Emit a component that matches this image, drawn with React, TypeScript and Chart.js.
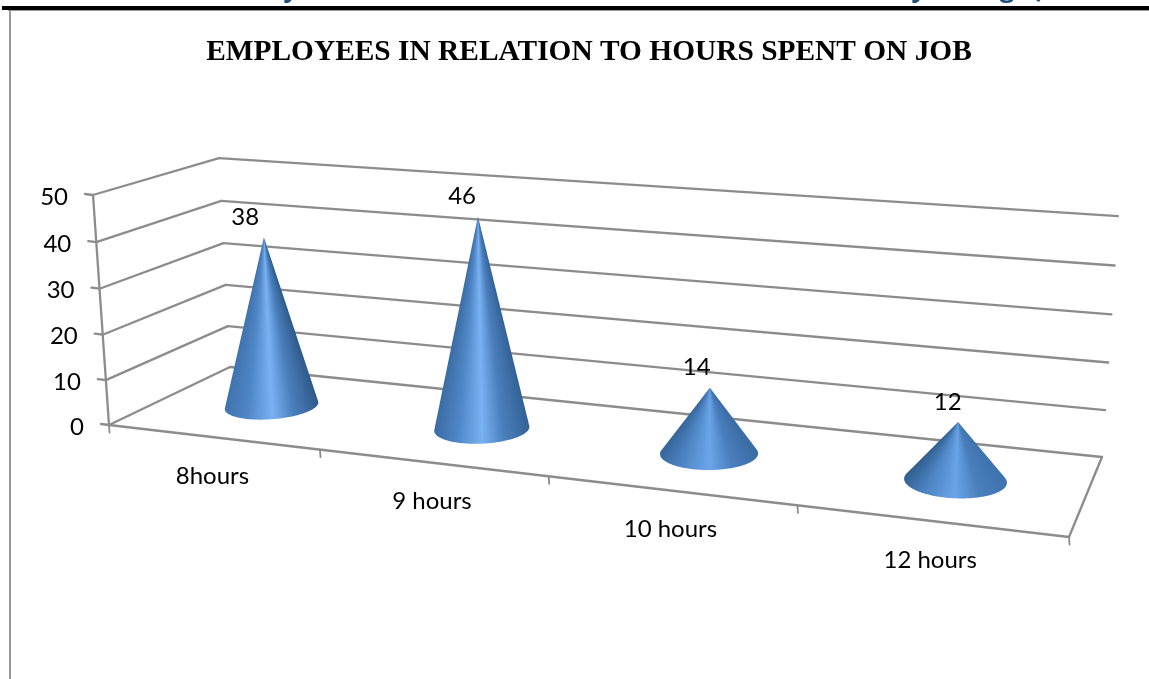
import React, { useEffect, useRef } from "react";
import { Chart, registerables } from "chart.js";

Chart.register(...registerables);

const categories = ["8hours", "9 hours", "10 hours", "12 hours"];
const employees = [38, 46, 14, 12];
const yMin = 0;
const yMax = 50;
const yStep = 10;
const titleText = "EMPLOYEES IN RELATION TO HOURS SPENT ON JOB";
const clippedHeading = [
  { ch: "y", x: 291 },
  { ch: ",", x: 373 },
  { ch: ",", x: 508 },
  { ch: "y", x: 919 },
  { ch: "g", x: 1007 },
  { ch: "(", x: 1037 },
];

const W = 1149;
const H = 679;
const GRID = "#8c8c8c";
const LABEL_FONT = '24px Lato';

// Oblique view of the plot box. Floor corners: front-left, front-right, back-right, back-left.
const P0 = [109, 425];
const P1 = [1069, 537];
const P2 = [1102, 457];
const P3 = [230, 367];
const TOP_FRONT_LEFT = [93, 195];
const TOP_BACK_LEFT = [219, 158];

function buildCamera() {
  const sx = P0[0] - P1[0] + P2[0] - P3[0];
  const sy = P0[1] - P1[1] + P2[1] - P3[1];
  const dx1 = P1[0] - P2[0];
  const dx2 = P3[0] - P2[0];
  const dy1 = P1[1] - P2[1];
  const dy2 = P3[1] - P2[1];
  const den = dx1 * dy2 - dx2 * dy1;
  const g = (sx * dy2 - dx2 * sy) / den;
  const h = (dx1 * sy - sx * dy1) / den;
  const a = P1[0] - P0[0] + g * P1[0];
  const b = P3[0] - P0[0] + h * P3[0];
  const d = P1[1] - P0[1] + g * P1[1];
  const e = P3[1] - P0[1] + h * P3[1];
  // Vertical column from the two known top corners.
  const pw = (b + TOP_FRONT_LEFT[0] - TOP_BACK_LEFT[0] * (1 + h)) /
    (TOP_BACK_LEFT[0] - TOP_FRONT_LEFT[0]);
  const px = TOP_FRONT_LEFT[0] * (1 + pw) - P0[0];
  const py = TOP_FRONT_LEFT[1] * (1 + pw) - P0[1];
  return (u: number, w: number, v: number) => {
    const q = 1 + g * u + h * w + pw * v;
    return [
      (P0[0] + a * u + b * w + px * v) / q,
      (P0[1] + d * u + e * w + py * v) / q,
    ];
  };
}
const project = buildCamera();

function hex(c: string) {
  return [1, 3, 5].map((i) => parseInt(c.slice(i, i + 2), 16));
}
function mixRgb(c1: number[], c2: number[], t: number) {
  return c1.map((v, i) => v + (c2[i] - v) * t);
}
function css(c: number[]) {
  return `rgb(${c.map(Math.round).join(",")})`;
}

function line(ctx: CanvasRenderingContext2D, a: number[], b: number[], width = 2.3, color = GRID) {
  ctx.strokeStyle = color;
  ctx.lineWidth = width;
  ctx.beginPath();
  ctx.moveTo(a[0], a[1]);
  ctx.lineTo(b[0], b[1]);
  ctx.stroke();
}

function drawCone(ctx: CanvasRenderingContext2D, u: number, v: number) {
  const N = 240;
  const RU = 0.049;
  const RW = 0.22;
  const apex = project(u, 0.5, v);
  const base: number[][] = [];
  for (let i = 0; i < N; i++) {
    const t = (i / N) * Math.PI * 2;
    base.push(project(u + RU * Math.cos(t), 0.5 + RW * Math.sin(t), 0));
  }
  let iL = 0;
  let iR = 0;
  let maxA = -Infinity;
  let minA = Infinity;
  base.forEach((p, i) => {
    const ang = Math.atan2(p[1] - apex[1], p[0] - apex[0]);
    if (ang > maxA) { maxA = ang; iL = i; }
    if (ang < minA) { minA = ang; iR = i; }
  });
  const tall = Math.min(1, (base[iL][1] - apex[1]) / 170);
  const left = mixRgb(hex("#4176b2"), hex("#2e5a8a"), u);
  const right = mixRgb(hex("#2b5583"), hex("#4176b4"), u);
  const midL = hex("#4f86c6");
  const midR = hex("#4a7fbd");
  const light = mixRgb(hex("#629ee2"), hex("#7ab1f2"), tall);

  // Shade fans out from the tip. Angles grow from the right edge to the left edge.
  const span = maxA - minA;
  const at = (f: number) => ((1 - f) * span + 0.001) / (Math.PI * 2);
  const grad = (ctx as any).createConicGradient(minA - 0.001, apex[0], apex[1]);
  grad.addColorStop(0, css(right));
  grad.addColorStop(at(0.72), css(midR));
  grad.addColorStop(at(0.5), css(light));
  grad.addColorStop(at(0.25), css(midL));
  grad.addColorStop(at(0), css(left));
  grad.addColorStop(1, css(left));

  ctx.fillStyle = grad;
  ctx.beginPath();
  ctx.moveTo(apex[0], apex[1]);
  const count = (iR - iL + N) % N;
  for (let k = 0; k <= count; k++) {
    const p = base[(iL + k) % N];
    ctx.lineTo(p[0], p[1]);
  }
  ctx.closePath();
  ctx.fill();
}

const obliquePlugin = {
  id: "oblique",
  beforeDraw(chart: any) {
    const { ctx, width, height } = chart;
    ctx.save();
    ctx.fillStyle = "#ffffff";
    ctx.fillRect(0, 0, width, height);

    // Page furniture around the chart.
    ctx.fillStyle = "#1f4e79";
    ctx.font = 'bold 26px "Open Sans"';
    ctx.textAlign = "center";
    ctx.textBaseline = "alphabetic";
    clippedHeading.forEach((c) => ctx.fillText(c.ch, c.x, -3));
    ctx.fillStyle = "#000000";
    ctx.fillRect(2, 6, W - 2, 4);
    ctx.fillStyle = "#999999";
    ctx.fillRect(8, 10, W - 8, 1);
    ctx.fillRect(9, 10, 2, H - 10);
    ctx.restore();
  },
  beforeDatasetsDraw(chart: any) {
    const { ctx, chartArea, scales } = chart;
    const x = scales.x;
    const y = scales.y;
    const toU = (px: number) => (px - chartArea.left) / chartArea.width;
    const toV = (py: number) => (chartArea.bottom - py) / chartArea.height;
    ctx.save();
    ctx.lineCap = "round";

    // Value gridlines run along the side wall and across the back wall.
    y.ticks.forEach((tick: any) => {
      const v = toV(y.getPixelForValue(tick.value));
      const front = project(0, 0, v);
      const backL = project(0, 1, v);
      const backR = project(1, 1, v);
      line(ctx, front, backL);
      line(ctx, backL, backR);
      line(ctx, [front[0] - 8, front[1] - 1], front);
      ctx.fillStyle = "#000000";
      ctx.font = LABEL_FONT;
      ctx.textAlign = "right";
      ctx.textBaseline = "middle";
      ctx.fillText(tick.label, front[0] - 25, front[1] + 2);
    });

    // Value axis and floor outline.
    line(ctx, project(0, 0, 1), project(0, 0, 0));
    line(ctx, project(0, 0, 0), project(1, 0, 0));
    line(ctx, project(1, 0, 0), project(1, 1, 0));

    // Category ticks and labels along the front edge of the floor.
    for (let i = 0; i <= categories.length; i++) {
      const p = project(toU(x.getPixelForValue(i - 0.5)), 0, 0);
      line(ctx, p, [p[0] + 0.5, p[1] + 7.5], 1.8);
    }
    categories.forEach((label, i) => {
      const p = project(toU(x.getPixelForValue(i)), 0, 0);
      ctx.fillStyle = "#000000";
      ctx.font = LABEL_FONT;
      ctx.textAlign = "center";
      ctx.textBaseline = "middle";
      ctx.fillText(label, p[0], p[1] + 39);
    });
    ctx.restore();
  },
  afterDatasetsDraw(chart: any) {
    const { ctx, chartArea } = chart;
    const meta = chart.getDatasetMeta(0);
    ctx.save();
    meta.data.forEach((el: any, i: number) => {
      const u = (el.x - chartArea.left) / chartArea.width;
      const v = (chartArea.bottom - el.y) / chartArea.height;
      drawCone(ctx, u, v);
      const apex = project(u, 0.5, v);
      ctx.fillStyle = "#000000";
      ctx.font = LABEL_FONT;
      ctx.textAlign = "center";
      ctx.textBaseline = "middle";
      ctx.fillText(String(employees[i]), apex[0] - 20 + 11 * u, apex[1] - 20);
    });
    ctx.restore();
  },
};

export default function App() {
  const ref = useRef<HTMLCanvasElement>(null);
  useEffect(() => {
    const chart = new Chart(ref.current as HTMLCanvasElement, {
      type: "bar",
      data: {
        labels: categories,
        datasets: [
          {
            label: "Employees",
            data: employees,
            backgroundColor: "rgba(0,0,0,0)",
            borderWidth: 0,
          },
        ],
      },
      options: {
        responsive: false,
        animation: false,
        events: [],
        layout: { padding: { left: P0[0], right: W - P1[0], top: 38, bottom: H - P0[1] } },
        plugins: {
          legend: { display: false },
          tooltip: { enabled: false },
          title: {
            display: true,
            text: titleText,
            color: "#000000",
            font: { family: '"Liberation Serif"', size: 29.4, weight: "bold", lineHeight: 1 },
            padding: { top: 0, bottom: 127.6 },
          },
        },
        scales: {
          x: { display: false },
          y: { display: false, min: yMin, max: yMax, ticks: { stepSize: yStep } },
        },
      },
      plugins: [obliquePlugin],
    } as any);
    return () => chart.destroy();
  }, []);
  return (
    <canvas
      ref={ref}
      width={W}
      height={H}
      style={{ position: "absolute", left: 0, top: 0, display: "block" }}
    />
  );
}
